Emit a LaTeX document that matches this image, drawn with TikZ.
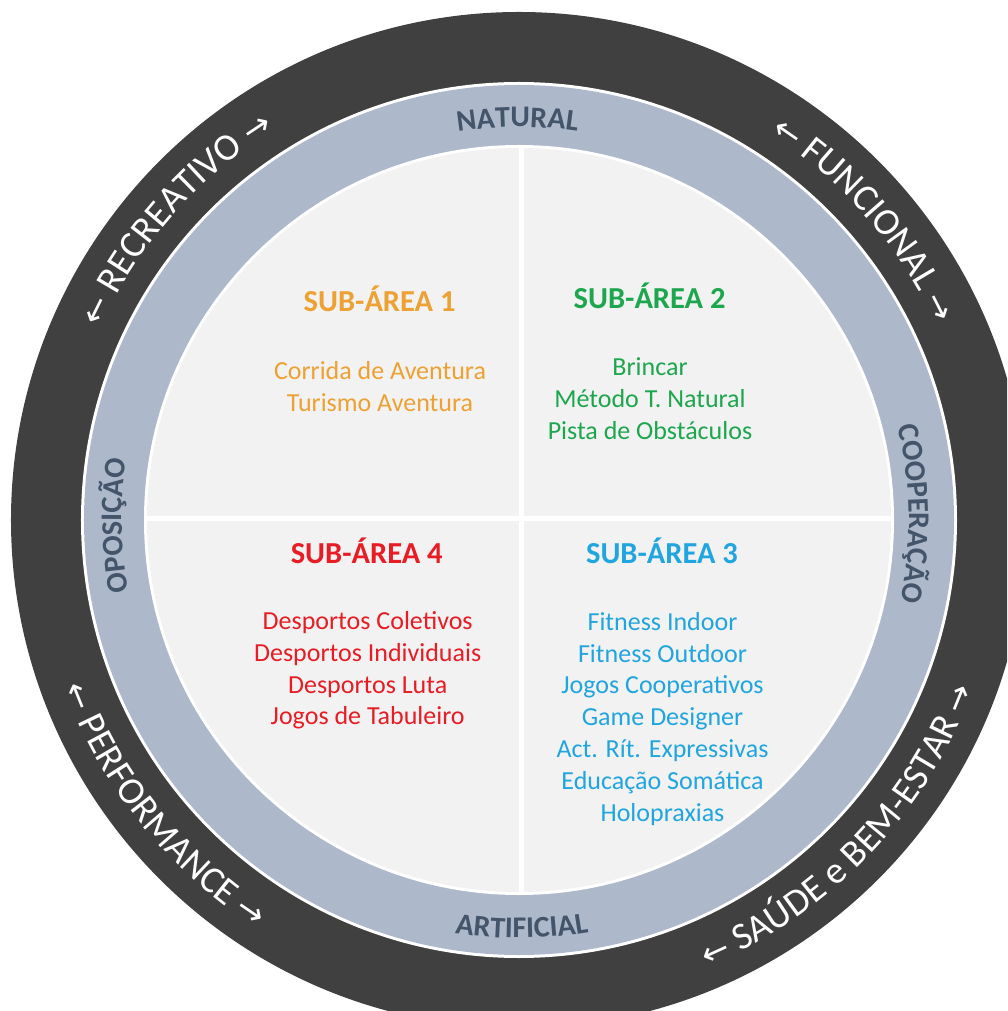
\documentclass[tikz,border=0pt]{standalone}
\usepackage{fontspec}
\setmainfont{Carlito}
\newfontfamily\arrfont{DejaVu Sans}
\usetikzlibrary{decorations.text}
\definecolor{darkring}{HTML}{404040}
\definecolor{bluering}{HTML}{ADB9CA}
\definecolor{innerbg}{HTML}{F2F2F2}
\definecolor{slate}{HTML}{44546A}
\definecolor{corange}{HTML}{EDA132}
\definecolor{cgreen}{HTML}{1CA64E}
\definecolor{cred}{HTML}{E71C24}
\definecolor{cblue}{HTML}{20A5DF}
\newcommand{\outfmt}{\fontsize{38}{38}\selectfont\color{white}}
\newcommand{\arrfmt}{\arrfont\fontsize{33}{33}\selectfont\color{white}}
\newcommand{\ringfmt}{\bfseries\fontsize{30}{30}\selectfont\color{slate}}
\begin{document}
\begin{tikzpicture}[x=1pt,y=1pt,
  titlebox/.style={font=\bfseries\fontsize{30.5}{36}\selectfont, inner sep=0pt},
  listbox/.style={font=\fontsize{26}{31.8}\selectfont, align=center, inner sep=0pt},
  ringtext/.style={decorate, decoration={text along path, text align={center}}}]
\useasboundingbox (-519,-491) rectangle (488,520);
\clip (-519,-491) rectangle (488,520);
\fill[white] (-519,-491) rectangle (488,520);
% rings
\fill[darkring] (0,0) circle[radius=508];
\fill[white] (0,0) circle[radius=438];
\fill[bluering] (0,0) circle[radius=435];
\fill[white] (0,0) circle[radius=375];
\fill[innerbg] (0,0) circle[radius=372];
\draw[white, line width=5pt] (2,-374) -- (2,374);
\draw[white, line width=5pt] (-374,1) -- (374,1);
% outer ring labels
\path[ringtext, decoration={text={|\arrfmt|←|\outfmt| RECREATIVO |\arrfmt|→}}]
  (168.7:461) arc[start angle=168.7, end angle=108.7, radius=461];
\path[ringtext, decoration={text={|\arrfmt|←|\outfmt| FUNCIONAL |\arrfmt|→}}]
  (71.1:461) arc[start angle=71.1, end angle=11.1, radius=461];
\path[ringtext, decoration={text={|\arrfmt|←|\outfmt| PERFORMANCE |\arrfmt|→}}]
  (188.7:485) arc[start angle=188.7, end angle=248.7, radius=485];
\path[ringtext, decoration={text={|\arrfmt|←|\outfmt| SAÚDE e BEM-ESTAR |\arrfmt|→}}]
  (286.2:485) arc[start angle=286.2, end angle=346.2, radius=485];
% inner ring labels
\path[ringtext, decoration={text={|\ringfmt|NATURAL}}]
  (110.2:393) arc[start angle=110.2, end angle=70.2, radius=393];
\path[ringtext, decoration={text={|\ringfmt|ARTIFICIAL}}]
  (250.4:418) arc[start angle=250.4, end angle=290.4, radius=418];
\path[ringtext, decoration={text={|\ringfmt|OPOSIÇÃO}}]
  (200.8:397) arc[start angle=200.8, end angle=160.8, radius=397];
\path[ringtext, decoration={text={|\ringfmt|COOPERAÇÃO}}]
  (20.9:390) arc[start angle=20.9, end angle=-19.1, radius=390];
% quadrant texts
\node[titlebox, text=corange] (t1) at (-139.4,221.3) {SUB-ÁREA 1};
\node[listbox, text=corange] (l1) at (-139,133.3) {Corrida de Aventura\\Turismo Aventura};
\node[titlebox, text=cgreen] (t2) at (130.6,224.6) {SUB-ÁREA 2};
\node[listbox, text=cgreen] (l2) at (131,121.1) {Brincar\\Método T. Natural\\Pista de Obstáculos};
\node[titlebox, text=cred] (t4) at (-152.3,-30.4) {SUB-ÁREA 4};
\node[listbox, text=cred] (l4) at (-151.3,-150.5) {Desportos Coletivos\\Desportos Individuais\\Desportos Luta\\Jogos de Tabuleiro};
\node[titlebox, text=cblue] (t3) at (143,-30.4) {SUB-ÁREA 3};
\node[listbox, text=cblue] (l3) at (143.5,-198.7) {Fitness Indoor\\Fitness Outdoor\\Jogos Cooperativos\\Game Designer\\Act. Rít. Expressivas\\Educação Somática\\Holopraxias};
\end{tikzpicture}
\end{document}
